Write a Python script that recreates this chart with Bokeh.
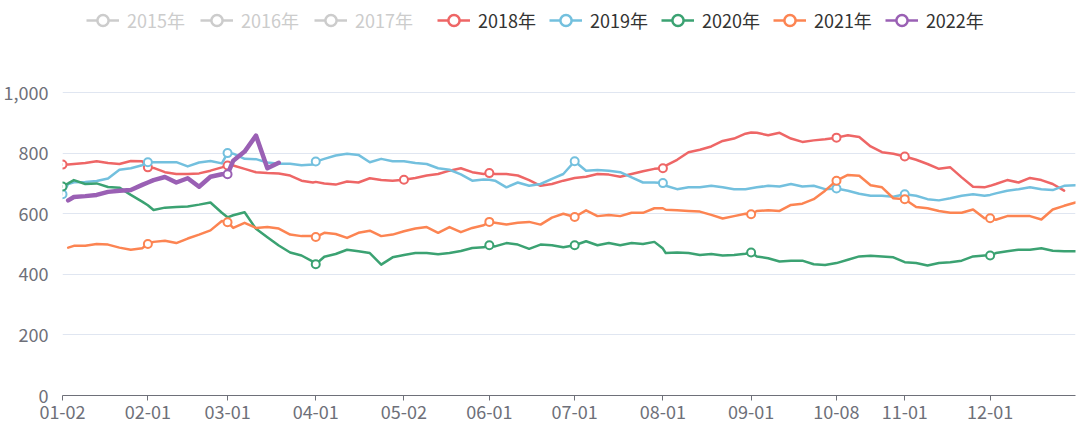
import datetime
import numpy as np
from bokeh.plotting import figure
from bokeh.models import Range1d, FixedTicker, NumeralTickFormatter, Legend, LegendItem, ColumnDataSource
from bokeh.embed import file_html
from bokeh.resources import INLINE

FONT = "Noto Sans CJK SC"

# ---- category axis: calendar days (MM-DD), National Day holiday 10-01..10-07 skipped
cats = []
_d = datetime.date(2021, 1, 2)
while _d.year == 2021:
    _s = _d.strftime("%m-%d")
    if not ("10-01" <= _s <= "10-07"):
        cats.append(_s)
    _d += datetime.timedelta(days=1)
cat_index = {c: i for i, c in enumerate(cats)}

tick_labels = ["01-02", "02-01", "03-01", "04-01", "05-02", "06-01",
               "07-01", "08-01", "09-01", "10-08", "11-01", "12-01"]
y_ticks = [0, 200, 400, 600, 800, 1000]

years = ["2015年", "2016年", "2017年", "2018年", "2019年", "2020年", "2021年", "2022年"]
colors = ["#5470c6", "#91cc75", "#fac858", "#ee6666", "#73c0de", "#3ba272", "#fc8452", "#9a60b4"]
hidden_years = ["2015年", "2016年", "2017年"]

dates = [
    "01-02", "01-04", "01-06", "01-10", "01-14", "01-18", "01-22", "01-26", "01-30",
    "02-01", "02-03", "02-07", "02-11", "02-15", "02-19", "02-23", "02-27",
    "03-01", "03-03", "03-07", "03-11", "03-15", "03-19", "03-23", "03-27", "03-31",
    "04-01", "04-04", "04-08", "04-12", "04-16", "04-20", "04-24", "04-28",
    "05-02", "05-06", "05-10", "05-14", "05-18", "05-22", "05-26", "05-30",
    "06-01", "06-03", "06-07", "06-11", "06-15", "06-19", "06-23", "06-27",
    "07-01", "07-05", "07-09", "07-13", "07-17", "07-21", "07-25", "07-29",
    "08-01", "08-02", "08-06", "08-10", "08-14", "08-18", "08-22", "08-26", "08-30",
    "09-01", "09-03", "09-07", "09-11", "09-15", "09-19", "09-23", "09-27",
    "10-08", "10-12", "10-16", "10-20", "10-24", "10-28",
    "11-01", "11-05", "11-09", "11-13", "11-17", "11-21", "11-25", "11-29",
    "12-01", "12-03", "12-07", "12-11", "12-15", "12-19", "12-23", "12-27", "12-31",
]

v2018 = [
    762, 762, 764, 767, 773, 767, 764, 774, 773,
    753, 751, 737, 731, 731, 733, 742, 753,
    759, 759, 748, 737, 734, 733, 726, 709, 703,
    705, 700, 696, 706, 703, 717, 711, 709,
    712, 718, 726, 731, 742, 750, 737, 731,
    734, 731, 731, 726, 711, 692, 698, 709,
    718, 722, 731, 729, 722, 731, 740, 748,
    750, 759, 778, 803, 811, 822, 840, 848, 864,
    868, 867, 859, 867, 848, 837, 842, 846,
    851, 859, 853, 822, 803, 798,
    789, 778, 764, 748, 753, 720, 689, 687,
    692, 698, 711, 703, 718, 711, 698, 676,
]
v2019 = [
    664, 698, 704, 705, 708, 716, 745, 750, 760,
    770, 770, 770, 770, 756, 769, 774, 766,
    800, 798, 781, 780, 769, 765, 765, 760, 762,
    772, 781, 792, 798, 794, 770, 781, 773,
    773, 767, 764, 750, 745, 730, 709, 713,
    712, 709, 687, 703, 692, 698, 715, 731,
    773, 742, 744, 742, 737, 720, 703, 703,
    701, 692, 681, 687, 687, 692, 687, 681, 681,
    684, 687, 692, 690, 698, 690, 692, 681,
    683, 676, 666, 659, 659, 656,
    664, 659, 648, 644, 651, 659, 664, 659,
    662, 667, 676, 681, 687, 681, 678, 692, 694,
]
v2020 = [
    690, 700, 711, 698, 700, 688, 686, 662, 640,
    628, 612, 620, 622, 624, 630, 637, 603,
    588, 595, 605, 550, 522, 495, 472, 462, 442,
    433, 458, 467, 481, 476, 470, 432, 456,
    464, 470, 470, 466, 470, 477, 487, 489,
    496, 492, 503, 498, 484, 498, 496, 489,
    496, 509, 496, 503, 496, 503, 500, 507,
    485, 470, 472, 470, 464, 467, 462, 464, 468,
    472, 459, 453, 442, 445, 445, 433, 431,
    437, 448, 459, 461, 459, 456,
    440, 437, 429, 437, 440, 445, 459, 462,
    462, 470, 476, 481, 481, 486, 478, 476, 476,
]
v2021 = [
    None, 488, 494, 494, 500, 498, 488, 481, 486,
    500, 507, 511, 503, 518, 531, 545, 576,
    572, 553, 570, 553, 556, 551, 531, 526, 526,
    523, 537, 533, 520, 537, 544, 526, 531,
    542, 551, 556, 537, 556, 539, 553, 562,
    573, 570, 564, 570, 573, 564, 587, 600,
    589, 611, 592, 596, 592, 603, 603, 618,
    618, 613, 611, 609, 607, 596, 584, 592, 600,
    598, 609, 611, 609, 629, 633, 648, 676,
    709, 728, 725, 694, 687, 651,
    648, 622, 618, 609, 603, 603, 614, 585,
    585, 580, 592, 592, 592, 581, 614, 626, 637,
]
v2022 = [
    None, 644, 655, 658, 662, 672, 676, 678, 695,
    703, 711, 721, 703, 717, 689, 722, 730,
    730, 775, 805, 858, 750, 768,
]

# dates (tick dates) on which each series shows its hollow symbol
mk2018 = ["01-02", "02-01", "03-01", "05-02", "06-01", "08-01", "10-08", "11-01"]
mk2019 = ["01-02", "02-01", "03-01", "04-01", "07-01", "08-01", "10-08", "11-01"]
mk2020 = ["01-02", "04-01", "06-01", "07-01", "09-01", "12-01"]
mk2021 = ["02-01", "03-01", "04-01", "06-01", "07-01", "09-01", "10-08", "11-01", "12-01"]
mk2022 = ["03-01"]

series = {
    "2018年": (v2018, mk2018, 2.5),
    "2019年": (v2019, mk2019, 2.5),
    "2020年": (v2020, mk2020, 2.5),
    "2021年": (v2021, mk2021, 2.5),
    "2022年": (v2022, mk2022, 4.5),
}

# frame spans the full height above the x axis; the value axis tops out at 1000,
# the space above it holds the legend
H, BOTTOM, TOP_PX = 427, 32, 92
frame_h = H - BOTTOM
y_top = y_ticks[-1] * frame_h / (frame_h - TOP_PX)

p = figure(width=1080, height=H, output_backend="svg", toolbar_location=None,
           x_range=Range1d(0, len(cats) - 1), y_range=Range1d(0, y_top),
           min_border_left=60, min_border_right=5, min_border_top=0, min_border_bottom=BOTTOM)
p.outline_line_color = None
p.background_fill_color = "white"
p.border_fill_color = "white"

# y axis
p.yaxis.ticker = FixedTicker(ticks=y_ticks)
p.yaxis.formatter = NumeralTickFormatter(format="0,0")
p.yaxis.axis_line_color = None
p.yaxis.major_tick_line_color = None
p.yaxis.minor_tick_line_color = None
p.yaxis.major_label_standoff = 8
p.yaxis.major_label_text_font = FONT
p.yaxis.major_label_text_font_size = "18px"
p.yaxis.major_label_text_color = "#6E7079"
p.ygrid.grid_line_color = "#E0E6F1"
p.ygrid.grid_line_width = 1
p.xgrid.visible = False

# x axis
p.xaxis.ticker = FixedTicker(ticks=[cat_index[t] for t in tick_labels])
p.xaxis.major_label_overrides = {cat_index[t]: t for t in tick_labels}
p.xaxis.axis_line_color = "#6E7079"
p.xaxis.major_tick_line_color = "#6E7079"
p.xaxis.major_tick_out = 5
p.xaxis.major_tick_in = 0
p.xaxis.minor_tick_line_color = None
p.xaxis.major_label_standoff = 4
p.xaxis.major_label_text_font = FONT
p.xaxis.major_label_text_font_size = "18px"
p.xaxis.major_label_text_color = "#6E7079"

hidden_items, shown_items = [], []
for name, col in zip(years, colors):
    # legend-only glyphs (icon: short line with a hollow circle); a single NaN
    # point so nothing shows in the plot area
    icon_col = "#cccccc" if name in hidden_years else col
    blank = ColumnDataSource(dict(x=np.array([np.nan]), y=np.array([np.nan])))
    g1 = p.line("x", "y", source=blank, line_color=icon_col, line_width=2.5)
    g2 = p.scatter("x", "y", source=blank, marker="circle", size=9, fill_color="white",
                   line_color=icon_col, line_width=2.5)
    if name in hidden_years:
        hidden_items.append(LegendItem(label=name, renderers=[g1, g2]))
        continue
    shown_items.append(LegendItem(label=name, renderers=[g1, g2]))
    vals, marks, lw = series[name]
    xs = [cat_index[d] for d, v in zip(dates, vals) if v is not None]
    ys = [v for v in vals if v is not None]
    lookup = {d: v for d, v in zip(dates, vals) if v is not None}
    mx = [cat_index[d] for d in marks]
    my = [lookup[d] for d in marks]
    p.line(xs, ys, line_color=col, line_width=lw, line_join="round", line_cap="round")
    p.scatter(mx, my, marker="circle", size=8, fill_color="white", line_color=col, line_width=2)

common = dict(orientation="horizontal", glyph_width=33, glyph_height=28, label_standoff=8,
              padding=0, margin=0, border_line_color=None, background_fill_alpha=0,
              label_text_font=FONT, label_text_font_size="18px", click_policy="none")
legend_hidden = Legend(items=hidden_items, location=(24, frame_h - 34), spacing=15,
                       label_text_color="#cccccc", **common)
legend_shown = Legend(items=shown_items, location=(375, frame_h - 34), spacing=13,
                      label_text_color="#333333", **common)
p.add_layout(legend_hidden)
p.add_layout(legend_shown)

open("out.html", "w").write(file_html(p, INLINE))
